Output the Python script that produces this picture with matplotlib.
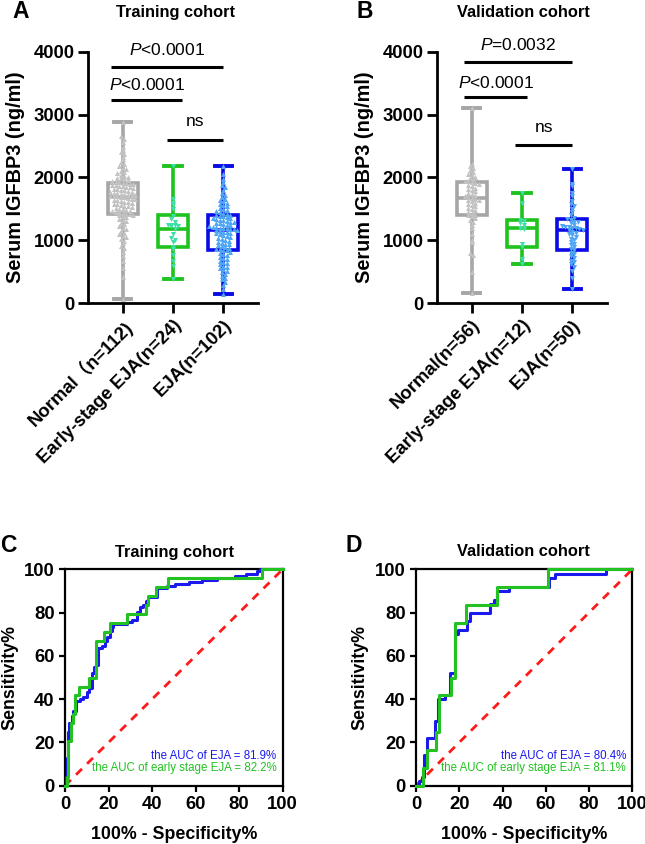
import numpy as np
import matplotlib
matplotlib.use('Agg')
import matplotlib.pyplot as plt

# ---------------- data ----------------
groups_A = ['Normal（n=112)', 'Early-stage EJA(n=24)', 'EJA(n=102)']
groups_B = ['Normal(n=56)', 'Early-stage EJA(n=12)', 'EJA(n=50)']

# box stats (min, q1, median, q3, max)
box_min_A = [68, 381, 143]
box_q1_A = [1415, 890, 847]
box_med_A = [1695, 1181, 1165]
box_q3_A = [1917, 1404, 1404]
box_max_A = [2890, 2188, 2188]

box_min_B = [159, 625, 227]
box_q1_B = [1404, 890, 847]
box_med_B = [1669, 1192, 1165]
box_q3_B = [1923, 1324, 1345]
box_max_B = [3110, 1749, 2130]

normal_A = [2890, 2660, 2610, 2570, 2490, 2440, 2410, 2370, 2330, 2290, 2240, 2210, 2180, 2150,
            2130, 2100, 2080, 2065, 2040, 2025, 2010, 1995, 1985, 1970, 1960, 1945, 1935, 1925,
            1915, 1910, 1902, 1895, 1885, 1878, 1866, 1858, 1850, 1842, 1833, 1822, 1815, 1806,
            1797, 1788, 1776, 1768, 1760, 1752, 1744, 1735, 1728, 1721, 1714, 1708, 1702, 1698,
            1690, 1683, 1672, 1664, 1655, 1646, 1637, 1628, 1616, 1604, 1595, 1586, 1574, 1563,
            1552, 1541, 1530, 1518, 1506, 1495, 1484, 1472, 1463, 1452, 1444, 1436, 1427, 1418,
            1410, 1398, 1384, 1365, 1348, 1322, 1305, 1283, 1255, 1226, 1204, 1183, 1156, 1125,
            1098, 1076, 1052, 1018, 995, 962, 918, 877, 815, 752, 676, 560, 425, 68]
early_A = [2180, 1660, 1600, 1560, 1500, 1380, 1340, 1300, 1250, 1245, 1240, 1235, 1230, 1181,
           1100, 1040, 1010, 980, 900, 860, 760, 680, 600, 381]
eja_A = [2188, 2050, 1980, 1930, 1880, 1850, 1800, 1760, 1720, 1690, 1660, 1640, 1620, 1600,
         1580, 1560, 1540, 1520, 1500, 1480, 1470, 1450, 1440, 1425, 1410,
         1400, 1390, 1380, 1370, 1360, 1350, 1340, 1330, 1320, 1310, 1300, 1290, 1280, 1270,
         1260, 1250, 1240, 1230, 1220, 1210, 1200, 1195, 1190, 1180, 1175, 1170,
         1160, 1150, 1140, 1130, 1120, 1110, 1100, 1085, 1070, 1055, 1040, 1025, 1010, 995,
         980, 965, 950, 935, 920, 905, 890, 880, 870, 860, 850,
         840, 820, 800, 780, 760, 740, 720, 700, 680, 660, 640, 620, 600, 580, 560, 540, 520,
         500, 470, 440, 410, 380, 340, 290, 220, 143]

normal_B = [3110, 2210, 2180, 2150, 2120, 2090, 2060, 2040, 2010, 1990, 1970, 1950, 1940, 1930,
            1920, 1900, 1880, 1860, 1840, 1820, 1800, 1780, 1760, 1740, 1720, 1700, 1690, 1675,
            1665, 1650, 1640, 1620, 1600, 1580, 1560, 1540, 1520, 1500, 1480, 1450, 1430, 1410,
            1400, 1380, 1360, 1330, 1300, 1250, 1200, 1100, 1000, 980, 800, 760, 500, 159]
early_B = [1749, 1600, 1330, 1310, 1280, 1250, 1200, 1185, 950, 900, 700, 625]
eja_B = [2130, 1900, 1860, 1760, 1700, 1620, 1580, 1550, 1500, 1450, 1400, 1360,
         1340, 1320, 1300, 1290, 1270, 1250, 1230, 1220, 1210, 1200, 1190, 1180, 1170,
         1160, 1140, 1120, 1100, 1080, 1050, 1020, 1000, 980, 950, 920, 890, 860,
         840, 800, 780, 750, 720, 680, 650, 620, 580, 520, 400, 227]

# significance annotations: (x1, x2, y, italic part, rest, text_y)
sig_A = [(-0.23, 1.99, 3762, 'P', '<0.0001', 4030),
         (-0.23, 1.18, 3232, 'P', '<0.0001', 3470),
         (0.88, 1.99, 2596, '', 'ns', 2887)]
sig_B = [(-0.15, 2.0, 3836, 'P', '=0.0032', 4106),
         (-0.15, 1.10, 3285, 'P', '<0.0001', 3498),
         (0.86, 2.0, 2512, '', 'ns', 2798)]

# ROC curves (100-specificity %, sensitivity %), step points
rocC_eja_x = [0, 0.5, 0.8, 1.5, 2.0, 3.1, 3.8, 5.1, 6.9, 8.4, 9.9, 11.2, 12.2, 13.3, 14.3, 15.3,
              16.8, 18.4, 19.1, 20.7, 21.4, 22.2, 28.3, 30.6, 32.9, 34.5, 36.0, 37.2, 38.3, 42.1,
              47.0, 50.5, 57, 63, 70, 78, 83, 88, 89.5, 100]
rocC_eja_y = [0, 4, 12.7, 25, 29, 32, 34.3, 39.2, 40.2, 41.2, 43.1, 45.1, 52, 54.9, 55.9, 63.7,
              64.7, 66.7, 68.6, 71.6, 73.5, 74.5, 75.5, 76.5, 80.4, 82.4, 83.3, 85.3, 87.3, 91.2,
              92.2, 93.1, 94.1, 95.1, 96.1, 97.1, 98, 99, 100, 100]
rocC_early_x = [0, 0.9, 1.5, 2.8, 3.6, 4.7, 6.6, 11.2, 14.3, 17.8, 20.8, 28.5, 37.4, 38.3, 42.0,
                47.1, 90.4, 100]
rocC_early_y = [0, 4.2, 20.8, 29.2, 33.3, 41.7, 45.8, 50, 66.7, 70.8, 75, 79.2, 83.3, 87.5, 91.7,
                95.8, 100, 100]
rocD_eja_x = [0, 1.5, 2.6, 3.7, 5.2, 8.8, 10.3, 13.4, 15.7, 18, 19.6, 23.4, 25, 34.2, 36, 37.3,
              43.1, 61.6, 64.3, 87.8, 100]
rocD_eja_y = [0, 2, 4, 14, 22, 30, 40, 42, 52, 70, 72, 76, 80, 84, 86, 90, 92, 96, 98, 100, 100]
rocD_early_x = [0, 3.4, 4.9, 9.2, 10.8, 16, 18, 23.1, 37.6, 60.9, 100]
rocD_early_y = [0, 8.3, 16.7, 25, 41.7, 50, 75, 83.3, 91.7, 100, 100]
auc_C = ['the AUC of EJA = 81.9%', 'the AUC of early stage EJA = 82.2%']
auc_D = ['the AUC of EJA = 80.4%', 'the AUC of early stage EJA = 81.1%']

# ---------------- style ----------------
plt.rcParams['font.family'] = ['Liberation Sans', 'Noto Sans CJK TC', 'DejaVu Sans']
plt.rcParams['mathtext.fontset'] = 'custom'
plt.rcParams['mathtext.it'] = 'Liberation Sans:italic'
plt.rcParams['mathtext.rm'] = 'Liberation Sans'

W, H = 645, 844
fig = plt.figure(figsize=(W / 100, H / 100), dpi=100)


def ax_px(l, t, r, b):
    return fig.add_axes([l / W, 1 - b / H, (r - l) / W, (b - t) / H])


def ftext(x, y, s, **kw):
    fig.text(x / W, 1 - y / H, s, **kw)


box_cols = ['#a6a6a6', '#1ec31e', '#0a0ae6']
pt_cols = ['#c2c2c2', '#3ddfa8', '#4ea6f5']


def swarm_x(vals, pos, binw=60, dx=0.07):
    vals = np.asarray(vals, float)
    bins = np.round(vals / binw).astype(int)
    xs = np.zeros_like(vals)
    for b in np.unique(bins):
        idx = np.where(bins == b)[0]
        k = len(idx)
        xs[idx] = pos + (np.arange(k) - (k - 1) / 2) * dx
    return xs


def box_panel(ax, mins, q1s, meds, q3s, maxs, pts, markers, labels, sigs):
    stats = []
    for i in range(3):
        stats.append(dict(med=meds[i], q1=q1s[i], q3=q3s[i], whislo=mins[i], whishi=maxs[i], fliers=[]))
    art = ax.bxp(stats, positions=[0, 1, 2], widths=0.6, capwidths=0.34, showfliers=False,
                 patch_artist=True, manage_ticks=False)
    for i in range(3):
        c = box_cols[i]
        art['boxes'][i].set(facecolor='white', edgecolor=c, linewidth=2.6, zorder=2)
        art['medians'][i].set(color=c, linewidth=2.6, zorder=3)
        for j in (2 * i, 2 * i + 1):
            art['whiskers'][j].set(color=c, linewidth=2.6, zorder=2)
            art['caps'][j].set(color=c, linewidth=2.8, zorder=2)
    for i in range(3):
        xs = swarm_x(pts[i], i)
        ax.scatter(xs, pts[i], marker=markers[i], s=13, color=pt_cols[i], linewidths=0, zorder=4)
    for (x1, x2, y, p, rest, ty) in sigs:
        ax.plot([x1, x2], [y, y], color='black', lw=2.2, clip_on=False, solid_capstyle='butt')
        s = (r'$\mathit{P}$' + rest) if p else rest
        ax.text((x1 + x2) / 2, ty, s, ha='center', va='center', fontsize=12.5, clip_on=False)
    ax.set_ylim(0, 4000)
    ax.set_xlim(-0.69, 2.69)
    ax.set_yticks([0, 1000, 2000, 3000, 4000])
    ax.set_xticks([0, 1, 2])
    ax.set_xticklabels(labels, rotation=45, ha='right', va='top', rotation_mode='anchor',
                       fontsize=13.3, fontweight='bold')
    for t in ax.get_yticklabels():
        t.set_fontsize(13.3)
        t.set_fontweight('bold')
    for s in ['top', 'right']:
        ax.spines[s].set_visible(False)
    for s in ['left', 'bottom']:
        ax.spines[s].set_linewidth(2.0)
    ax.tick_params(axis='both', length=7, width=2.0, direction='out', pad=2.5)
    ax.set_ylabel('Serum IGFBP3 (ng/ml)', fontsize=14.3, fontweight='bold')
    ax.yaxis.set_label_coords(-0.37, 0.5)


axA = ax_px(88, 51.7, 258, 303.3)
box_panel(axA, box_min_A, box_q1_A, box_med_A, box_q3_A, box_max_A,
          [normal_A, early_A, eja_A], ['^', 'v', '^'], groups_A, sig_A)
axB = ax_px(437, 51.7, 607, 303.3)
box_panel(axB, box_min_B, box_q1_B, box_med_B, box_q3_B, box_max_B,
          [normal_B, early_B, eja_B], ['^', 'v', 'v'], groups_B, sig_B)


def roc_panel(ax, ex, ey, gx, gy, aucs, ylab_x):
    ax.plot([0, 100], [0, 100], color='#ff1a1a', lw=2.0, linestyle=(0, (3, 2.6)), zorder=2)
    ax.plot(ex, ey, color='#1a1aee', lw=2.2, drawstyle='steps-post', zorder=3, clip_on=False)
    ax.plot(gx, gy, color='#22c222', lw=2.2, drawstyle='steps-post', zorder=4, clip_on=False)
    ax.set_xlim(0, 100)
    ax.set_ylim(0, 100)
    ax.set_xticks([0, 20, 40, 60, 80, 100])
    ax.set_yticks([0, 20, 40, 60, 80, 100])
    for t in ax.get_xticklabels() + ax.get_yticklabels():
        t.set_fontsize(13.3)
        t.set_fontweight('bold')
    for s in ax.spines.values():
        s.set_linewidth(1.6)
    ax.tick_params(axis='both', length=4.5, width=1.6, direction='out', pad=3)
    ax.text(97.2, 13.9, aucs[0], color='#1a1aee', ha='right', va='center', fontsize=8.3)
    ax.text(97.2, 8.0, aucs[1], color='#22c222', ha='right', va='center', fontsize=8.3)
    ax.set_ylabel('Sensitivity%', fontsize=12.8, fontweight='bold')
    ax.yaxis.set_label_coords(ylab_x, 0.5)
    ax.set_xlabel('100% - Specificity%', fontsize=12.8, fontweight='bold')
    ax.xaxis.set_label_coords(0.5, -0.186)


axC = ax_px(65, 569.3, 282.7, 785.7)
roc_panel(axC, rocC_eja_x, rocC_eja_y, rocC_early_x, rocC_early_y, auc_C, -0.216)
axD = ax_px(416, 569.3, 632.3, 785.7)
roc_panel(axD, rocD_eja_x, rocD_eja_y, rocD_early_x, rocD_early_y, auc_D, -0.222)

# titles
ftext(175, 12.5, 'Training cohort', ha='center', va='center', fontsize=11.8, fontweight='bold')
ftext(523, 12.5, 'Validation cohort', ha='center', va='center', fontsize=11.8, fontweight='bold')
ftext(174, 552, 'Training cohort', ha='center', va='center', fontsize=11.8, fontweight='bold')
ftext(523, 552, 'Validation cohort', ha='center', va='center', fontsize=11.8, fontweight='bold')
# panel letters
ftext(21, 11, 'A', ha='center', va='center', fontsize=16.5, fontweight='bold')
ftext(365, 11, 'B', ha='center', va='center', fontsize=16.5, fontweight='bold')
ftext(8, 546, 'C', ha='center', va='center', fontsize=16.5, fontweight='bold')
ftext(354, 546, 'D', ha='center', va='center', fontsize=16.5, fontweight='bold')

fig.savefig('out.png', dpi=100)
